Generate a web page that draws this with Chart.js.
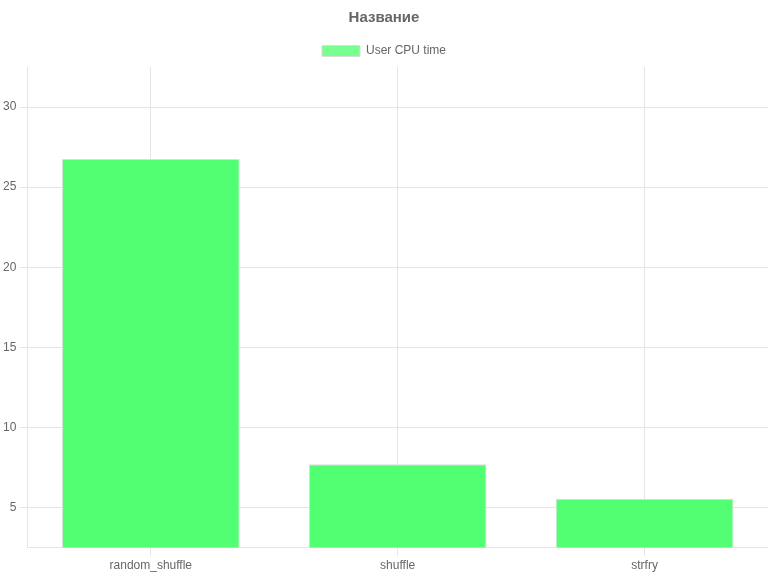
<!DOCTYPE html>
<html>
<head>
<meta charset="utf-8">
<script src="https://cdn.jsdelivr.net/npm/chart.js@4/dist/chart.umd.min.js"></script>
<style>
    html, body { margin: 0; padding: 0; background: #fff; }
    #wrap { width: 768px; height: 576px; }
</style>
</head>
<body>
<div id="wrap"><canvas id="barChart"></canvas></div>
<script>
// datos
var categorias = ["random_shuffle", "shuffle", "strfry"];
var userCpu = [26.75, 7.7, 5.55];
var etiquetaSerie = "User CPU time";
var titulo = "Название";

Chart.defaults.font.family = "'Liberation Sans', Arial, sans-serif";
Chart.defaults.font.size = 12;
Chart.defaults.color = "#666";

var barData = {
    labels: categorias,
    datasets: [{
        label: etiquetaSerie,
        data: userCpu,
        backgroundColor: "#52ff73",
        borderColor: "#dcdcdc",
        borderWidth: 1
    }]
};

var barOptions = {
    responsive: true,
    maintainAspectRatio: false,
    animation: false,
    plugins: {
        title: {
            display: true,
            text: titulo,
            font: { size: 15, weight: "bold" },
            padding: { top: 9, bottom: 8 }
        },
        legend: {
            labels: {
                boxWidth: 38,
                boxHeight: 11,
                generateLabels: function(chart) {
                    var items = Chart.defaults.plugins.legend.labels.generateLabels(chart);
                    items.forEach(function(it) { it.fillStyle = "#77ff8f"; it.strokeStyle = "#dcdcdc"; });
                    return items;
                }
            }
        },
        tooltip: { enabled: false }
    },
    scales: {
        x: {
            grid: { offset: false, color: "#e5e5e5" },
            border: { color: "#e5e5e5" }
        },
        y: {
            min: 2.5,
            max: 32.5,
            afterBuildTicks: function(axis) {
                // solo multiplos de 5, sin lineas en los bordes
                var t = [];
                for (var v = Math.ceil(axis.min / 5) * 5; v <= axis.max; v += 5) t.push({ value: v });
                axis.ticks = t;
            },
            grid: { color: "#e5e5e5" },
            border: { color: "#e5e5e5" }
        }
    }
};

var ctx = document.getElementById("barChart").getContext("2d");
new Chart(ctx, { type: "bar", data: barData, options: barOptions });
</script>
</body>
</html>
